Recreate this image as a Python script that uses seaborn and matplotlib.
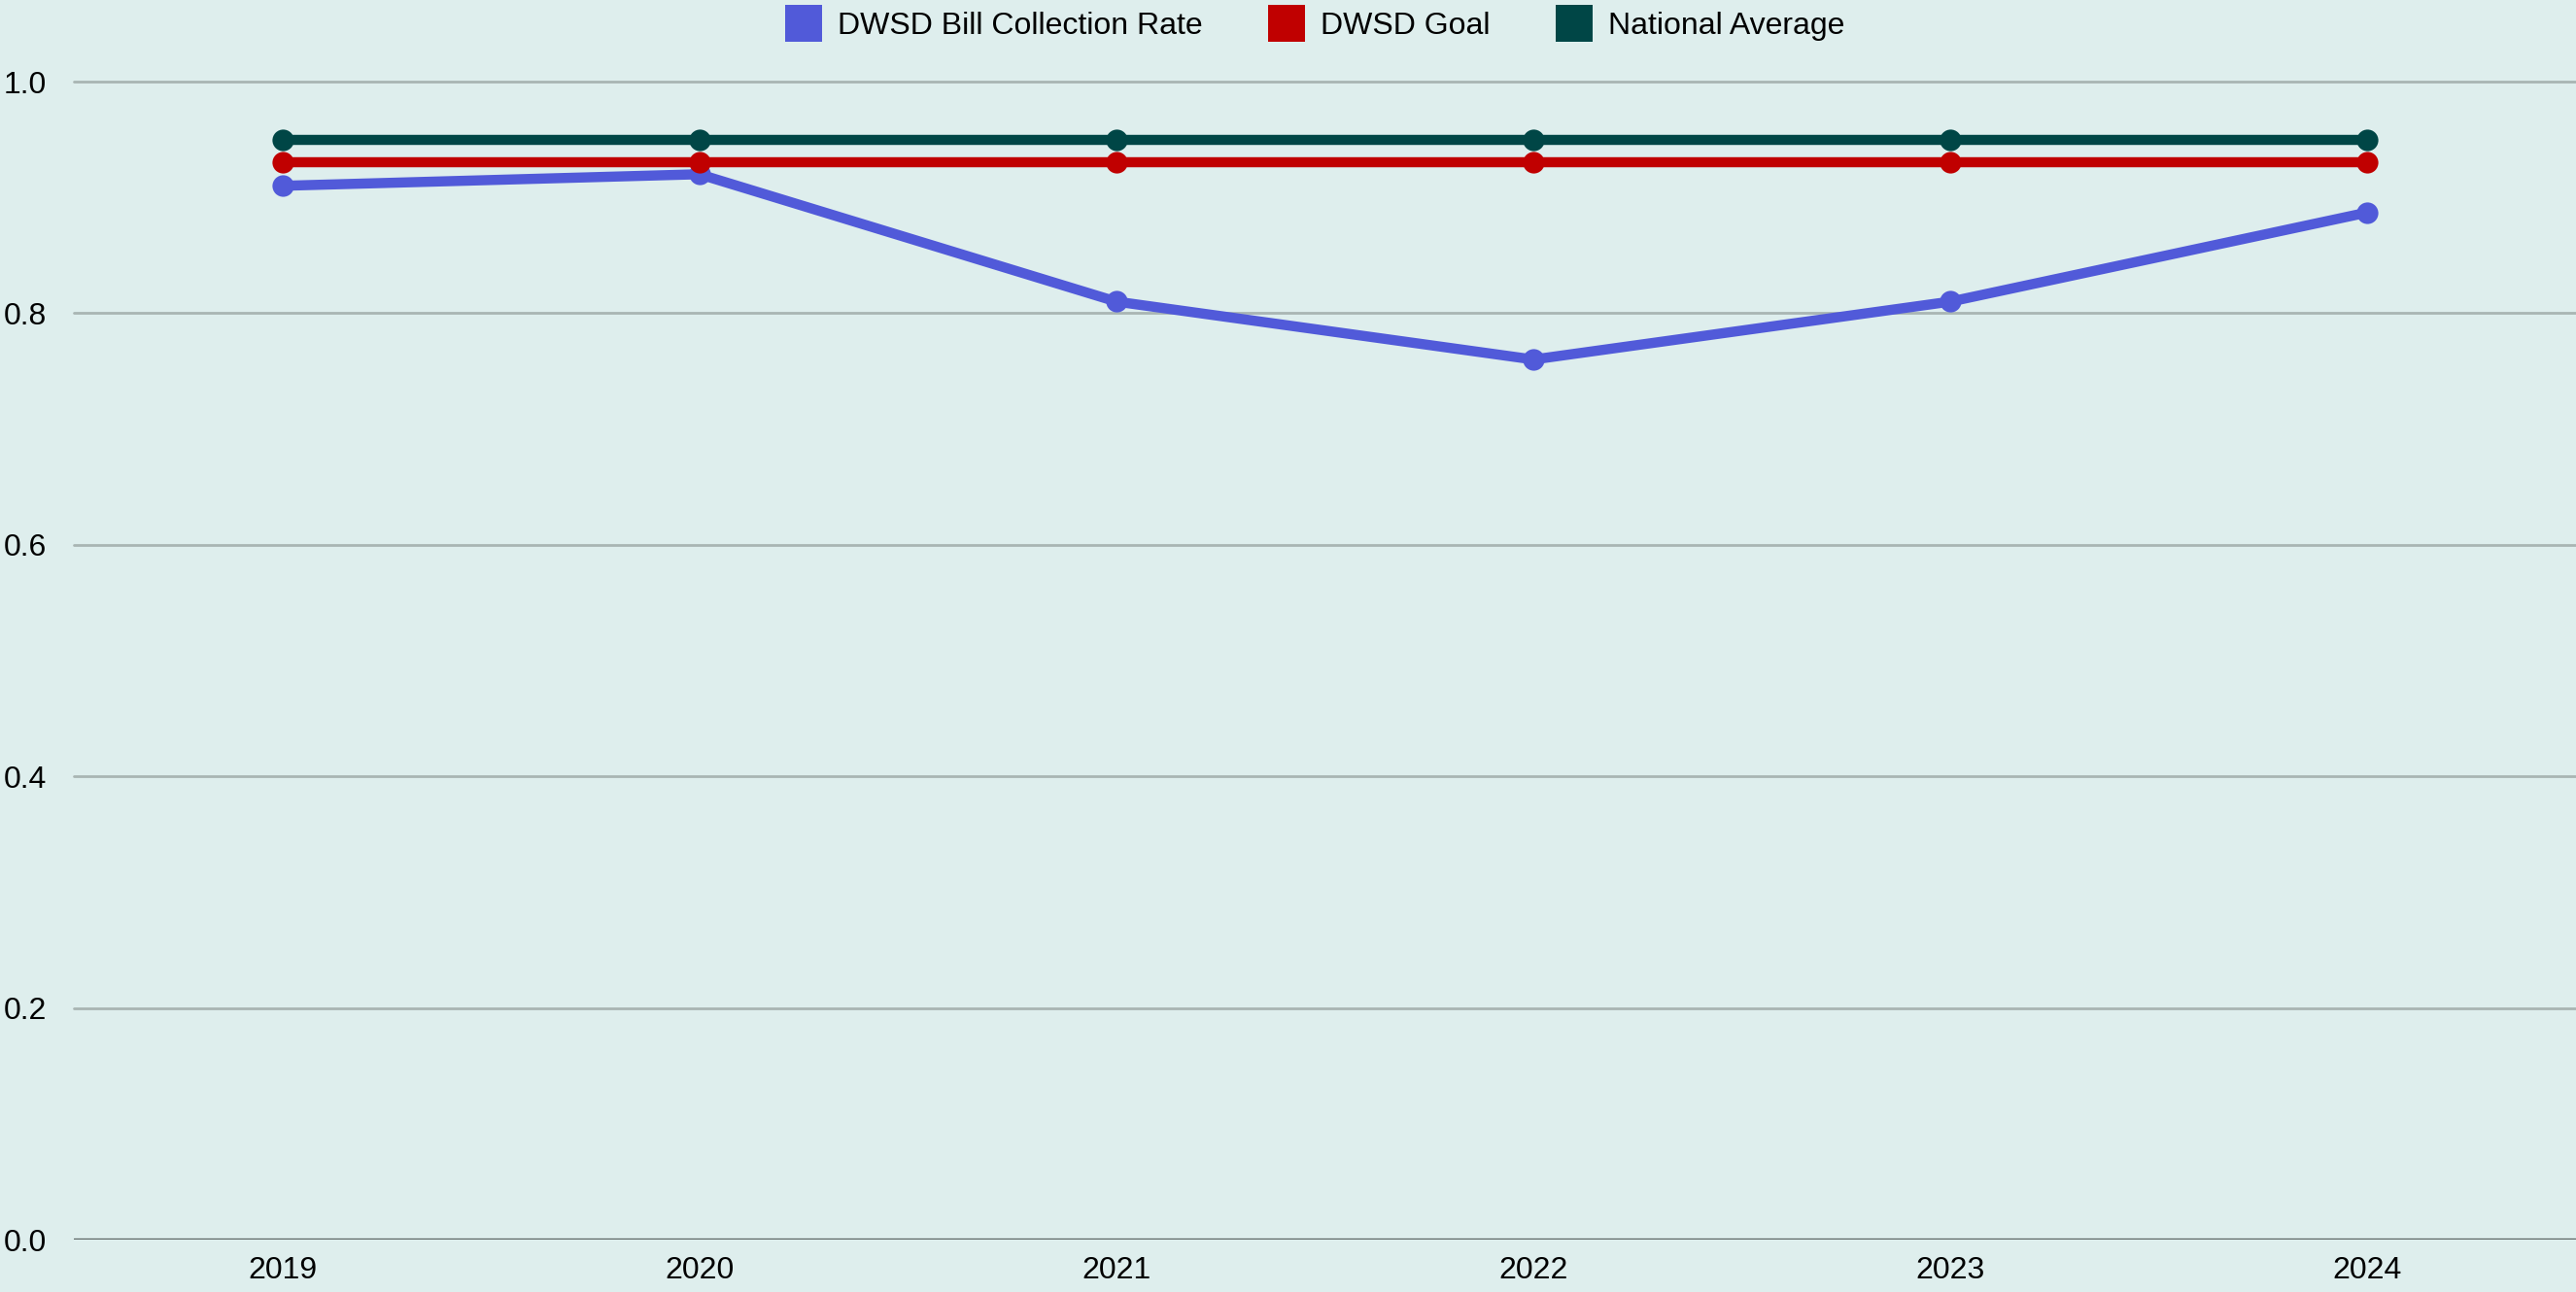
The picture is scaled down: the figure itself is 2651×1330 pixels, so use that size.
import matplotlib
matplotlib.use('Agg')
import matplotlib.pyplot as plt
import pandas as pd
import seaborn as sns
from matplotlib.lines import Line2D

# data
years = ['2019', '2020', '2021', '2022', '2023', '2024']
collection_rate = [0.91, 0.92, 0.81, 0.76, 0.81, 0.887]
dwsd_goal = [0.93, 0.93, 0.93, 0.93, 0.93, 0.93]
national_avg = [0.95, 0.95, 0.95, 0.95, 0.95, 0.95]
series_names = ['DWSD Bill Collection Rate', 'DWSD Goal', 'National Average']
colors = ['#515ad9', '#c00000', '#004646']

df = pd.DataFrame({
    'year': years * 3,
    'value': collection_rate + dwsd_goal + national_avg,
    'series': [series_names[0]] * 6 + [series_names[1]] * 6 + [series_names[2]] * 6,
})

sns.set_style('white')
plt.rcParams['font.family'] = ['Liberation Sans', 'DejaVu Sans']

bg = '#deeeed'
W, H = 2651, 1330
fig = plt.figure(figsize=(W / 100, H / 100), dpi=100, facecolor=bg)
ax = fig.add_axes([76 / W, (H - 1276) / H, (W - 76) / W, (1276 - 84) / H])
ax.set_facecolor(bg)

sns.lineplot(data=df, x='year', y='value', hue='series', hue_order=series_names,
             palette=colors, marker='o', markersize=16, markeredgewidth=0,
             linewidth=7.5, ax=ax, legend=False, sort=False)

ax.set_xlim(-0.5, 5.5)
ax.set_ylim(0, 1.0)
ax.set_yticks([0.0, 0.2, 0.4, 0.6, 0.8, 1.0])
ax.set_yticklabels(['0.0', '0.2', '0.4', '0.6', '0.8', '1.0'])
ax.set_xlabel('')
ax.set_ylabel('')

for y in [0.2, 0.4, 0.6, 0.8, 1.0]:
    ax.axhline(y, color='#a9b5b3', linewidth=2, zorder=0, clip_on=False)
ax.axhline(0, color='#5a6362', linewidth=2.4, zorder=0)

for s in ax.spines.values():
    s.set_visible(False)

ax.tick_params(axis='y', length=0, pad=20, labelsize=23, labelcolor='black')
ax.tick_params(axis='x', length=0, pad=12, labelsize=23, labelcolor='black')

handles = [Line2D([0], [0], marker='s', color='none', markerfacecolor=c,
                  markeredgewidth=0, markersize=27) for c in colors]
fig.legend(handles, series_names, loc='center', bbox_to_anchor=(0.511, 1 - 27 / H),
           ncol=3, frameon=False, fontsize=23, labelcolor='black', handletextpad=0.6,
           columnspacing=2.2, handlelength=1.0)

fig.savefig('out.png', dpi=100, facecolor=bg)
